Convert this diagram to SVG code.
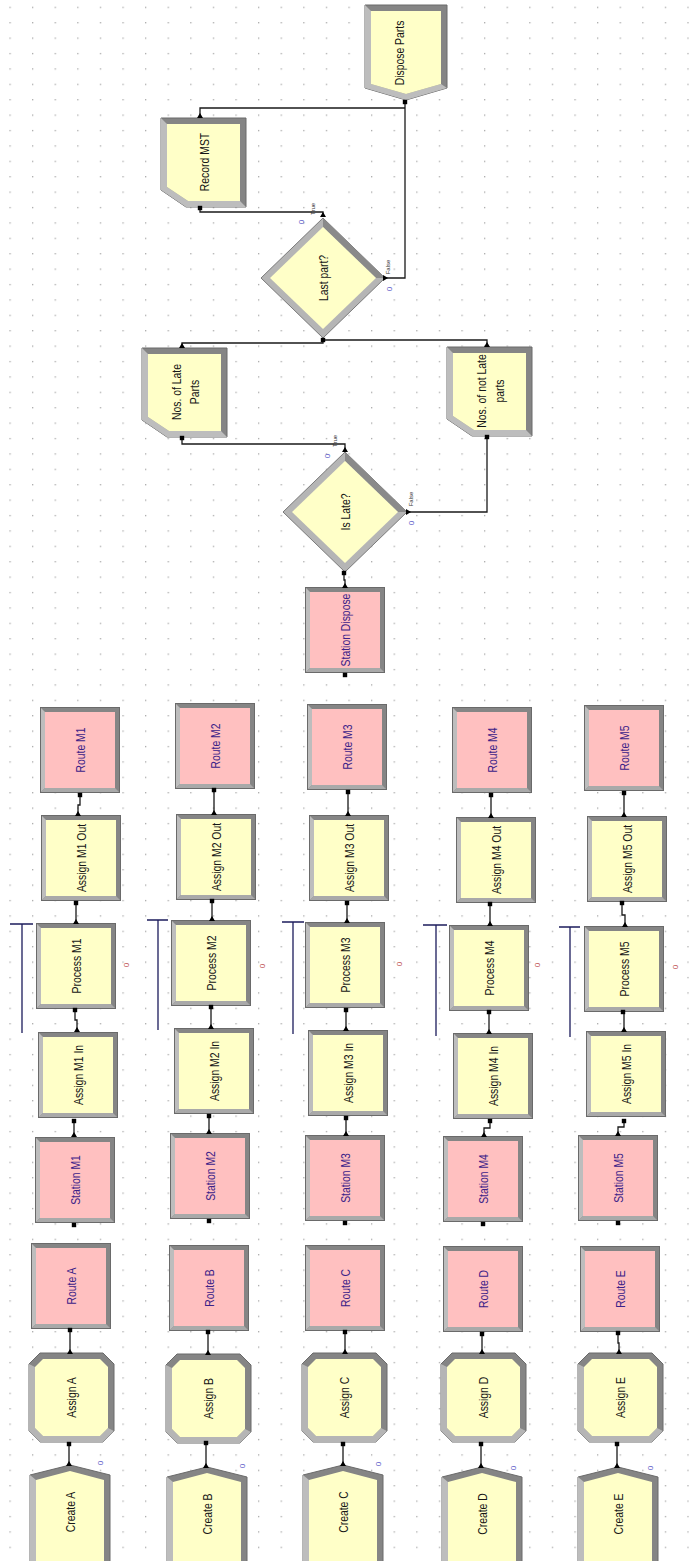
<svg xmlns="http://www.w3.org/2000/svg" width="689" height="1561" viewBox="0 0 689 1561">
<style>
.t{font-family:"Liberation Sans",Arial,sans-serif;font-size:13px;text-anchor:middle}
.ty{fill:#161616}
.tp{fill:#3c2288}
.c{fill:none;stroke:#1a1a1a;stroke-width:1.3}
.res{fill:none;stroke:#1c1c5c;stroke-width:1.3}
.cb{font-family:"Liberation Sans",Arial,sans-serif;font-size:8px;fill:#5b5bc8;text-anchor:middle}
.cr{font-family:"Liberation Sans",Arial,sans-serif;font-size:8px;fill:#c05050;text-anchor:middle}
.lb{font-family:"Liberation Sans",Arial,sans-serif;font-size:6px;fill:#333;text-anchor:middle}
</style>
<defs>
<pattern id="grid" width="22.6" height="15.4" patternUnits="userSpaceOnUse" x="9.4" y="6.7">
<rect width="1.3" height="1.3" fill="#a8a8a8"/>
</pattern>
<g id="boxY">
<rect width="80" height="86" fill="#858585"/>
<polygon points="0,0 5,5 5,81 0,86" fill="#bdbdbd"/>
<polygon points="0,86 5,81 75,81 80,86" fill="#a9a9a9"/>
<rect x="5" y="5" width="70" height="76" fill="#ffffc8"/>
<rect x="0.5" y="0.5" width="79" height="85" fill="none" stroke="#6a6a6a"/>
</g>
<g id="boxP">
<rect width="80" height="86" fill="#858585"/>
<polygon points="0,0 5,5 5,81 0,86" fill="#bdbdbd"/>
<polygon points="0,86 5,81 75,81 80,86" fill="#a9a9a9"/>
<rect x="5" y="5" width="70" height="76" fill="#ffc0c0"/>
<rect x="0.5" y="0.5" width="79" height="85" fill="none" stroke="#6a6a6a"/>
</g>
<g id="asg">
<polygon points="11,0 74,0 85,11 85,78 74,89 11,89 0,78 0,11" fill="#858585" stroke="#6a6a6a"/>
<polygon points="0,11 6,14 6,75 14,83 71,83 79,75 85,78 74,89 11,89 0,78" fill="#b5b5b5"/>
<polygon points="14,6 71,6 79,14 79,75 71,83 14,83 6,75 6,14" fill="#ffffc8"/>
</g>
<g id="crt">
<polygon points="0,10 40,0 80,10 80,100 0,100" fill="#858585" stroke="#6a6a6a"/>
<polygon points="0,10 6,15 6,100 0,100" fill="#bdbdbd"/>
<polygon points="6,15 40,6 74,15 74,100 6,100" fill="#ffffc8"/>
</g>
<g id="rec">
<polygon points="0,0 85,0 85,89 25,89 0,72" fill="#858585" stroke="#6a6a6a"/>
<polygon points="0,0 6,6 6,69 27,83 79,83 85,89 25,89 0,72" fill="#bdbdbd"/>
<polygon points="6,6 79,6 79,83 27,83 6,69" fill="#ffffc8"/>
</g>
<g id="dec">
<polygon points="0,-60 62,0 0,60 -62,0" fill="#b5b5b5" stroke="#7a7a7a"/>
<polygon points="0,-60 62,0 53,0 0,-51" fill="#8a8a8a"/>
<polygon points="0,-51 53,0 0,51 -53,0" fill="#ffffc8"/>
</g>
<g id="dsp">
<polygon points="0,0 82,0 82,83 41,95 0,83" fill="#858585" stroke="#6a6a6a"/>
<polygon points="0,0 6,6 6,79 41,89 76,79 82,83 41,95 0,83" fill="#bdbdbd"/>
<polygon points="6,6 76,6 76,79 41,89 6,79" fill="#ffffc8"/>
</g>
<rect id="sq" x="-2.2" y="-2.2" width="4.4" height="4.4" fill="#000"/>
<polygon id="tri" points="-3,2 3,2 0,-3" fill="#000"/>
</defs>

<rect width="689" height="1561" fill="#ffffff"/>
<rect width="689" height="1561" fill="url(#grid)"/>

<!-- Row A -->
<g id="RouteM1" transform="translate(40,707)"><use href="#boxP"/><text class="t tp" transform="translate(40,43) rotate(-90) scale(0.8,1)" dy="0.35em">Route M1</text></g>
<g id="AssignM1Out" transform="translate(41,815)"><use href="#boxY"/><text class="t ty" transform="translate(40,43) rotate(-90) scale(0.8,1)" dy="0.35em">Assign M1 Out</text></g>
<g id="ProcessM1" transform="translate(36,923)"><use href="#boxY"/><text class="t ty" transform="translate(40,43) rotate(-90) scale(0.8,1)" dy="0.35em">Process M1</text></g>
<g id="AssignM1In" transform="translate(38,1032)"><use href="#boxY"/><text class="t ty" transform="translate(40,43) rotate(-90) scale(0.8,1)" dy="0.35em">Assign M1 In</text></g>
<g id="StationM1" transform="translate(35,1137)"><use href="#boxP"/><text class="t tp" transform="translate(40,43) rotate(-90) scale(0.8,1)" dy="0.35em">Station M1</text></g>
<g id="RouteA" transform="translate(31,1243)"><use href="#boxP"/><text class="t tp" transform="translate(40,43) rotate(-90) scale(0.8,1)" dy="0.35em">Route A</text></g>
<g id="AssignA" transform="translate(29,1353)"><use href="#asg"/><text class="t ty" transform="translate(42.5,44.5) rotate(-90) scale(0.8,1)" dy="0.35em">Assign A</text></g>
<g id="CreateA" transform="translate(30,1465)"><use href="#crt"/><text class="t ty" transform="translate(40,47) rotate(-90) scale(0.8,1)" dy="0.35em">Create A</text></g>

<!-- Row B -->
<g id="RouteM2" transform="translate(175,703)"><use href="#boxP"/><text class="t tp" transform="translate(40,43) rotate(-90) scale(0.8,1)" dy="0.35em">Route M2</text></g>
<g id="AssignM2Out" transform="translate(176,814)"><use href="#boxY"/><text class="t ty" transform="translate(40,43) rotate(-90) scale(0.8,1)" dy="0.35em">Assign M2 Out</text></g>
<g id="ProcessM2" transform="translate(171,920)"><use href="#boxY"/><text class="t ty" transform="translate(40,43) rotate(-90) scale(0.8,1)" dy="0.35em">Process M2</text></g>
<g id="AssignM2In" transform="translate(174,1028)"><use href="#boxY"/><text class="t ty" transform="translate(40,43) rotate(-90) scale(0.8,1)" dy="0.35em">Assign M2 In</text></g>
<g id="StationM2" transform="translate(170,1133)"><use href="#boxP"/><text class="t tp" transform="translate(40,43) rotate(-90) scale(0.8,1)" dy="0.35em">Station M2</text></g>
<g id="RouteB" transform="translate(169,1245)"><use href="#boxP"/><text class="t tp" transform="translate(40,43) rotate(-90) scale(0.8,1)" dy="0.35em">Route B</text></g>
<g id="AssignB" transform="translate(166,1354)"><use href="#asg"/><text class="t ty" transform="translate(42.5,44.5) rotate(-90) scale(0.8,1)" dy="0.35em">Assign B</text></g>
<g id="CreateB" transform="translate(167,1467)"><use href="#crt"/><text class="t ty" transform="translate(40,47) rotate(-90) scale(0.8,1)" dy="0.35em">Create B</text></g>

<!-- Row C -->
<g id="RouteM3" transform="translate(307,704)"><use href="#boxP"/><text class="t tp" transform="translate(40,43) rotate(-90) scale(0.8,1)" dy="0.35em">Route M3</text></g>
<g id="AssignM3Out" transform="translate(309,815)"><use href="#boxY"/><text class="t ty" transform="translate(40,43) rotate(-90) scale(0.8,1)" dy="0.35em">Assign M3 Out</text></g>
<g id="ProcessM3" transform="translate(305,922)"><use href="#boxY"/><text class="t ty" transform="translate(40,43) rotate(-90) scale(0.8,1)" dy="0.35em">Process M3</text></g>
<g id="AssignM3In" transform="translate(308,1030)"><use href="#boxY"/><text class="t ty" transform="translate(40,43) rotate(-90) scale(0.8,1)" dy="0.35em">Assign M3 In</text></g>
<g id="StationM3" transform="translate(305,1135)"><use href="#boxP"/><text class="t tp" transform="translate(40,43) rotate(-90) scale(0.8,1)" dy="0.35em">Station M3</text></g>
<g id="RouteC" transform="translate(305,1245)"><use href="#boxP"/><text class="t tp" transform="translate(40,43) rotate(-90) scale(0.8,1)" dy="0.35em">Route C</text></g>
<g id="AssignC" transform="translate(302,1353)"><use href="#asg"/><text class="t ty" transform="translate(42.5,44.5) rotate(-90) scale(0.8,1)" dy="0.35em">Assign C</text></g>
<g id="CreateC" transform="translate(303,1465)"><use href="#crt"/><text class="t ty" transform="translate(40,47) rotate(-90) scale(0.8,1)" dy="0.35em">Create C</text></g>

<!-- Row D -->
<g id="RouteM4" transform="translate(452,707)"><use href="#boxP"/><text class="t tp" transform="translate(40,43) rotate(-90) scale(0.8,1)" dy="0.35em">Route M4</text></g>
<g id="AssignM4Out" transform="translate(456,817)"><use href="#boxY"/><text class="t ty" transform="translate(40,43) rotate(-90) scale(0.8,1)" dy="0.35em">Assign M4 Out</text></g>
<g id="ProcessM4" transform="translate(449,925)"><use href="#boxY"/><text class="t ty" transform="translate(40,43) rotate(-90) scale(0.8,1)" dy="0.35em">Process M4</text></g>
<g id="AssignM4In" transform="translate(453,1033)"><use href="#boxY"/><text class="t ty" transform="translate(40,43) rotate(-90) scale(0.8,1)" dy="0.35em">Assign M4 In</text></g>
<g id="StationM4" transform="translate(443,1136)"><use href="#boxP"/><text class="t tp" transform="translate(40,43) rotate(-90) scale(0.8,1)" dy="0.35em">Station M4</text></g>
<g id="RouteD" transform="translate(443,1246)"><use href="#boxP"/><text class="t tp" transform="translate(40,43) rotate(-90) scale(0.8,1)" dy="0.35em">Route D</text></g>
<g id="AssignD" transform="translate(441,1353)"><use href="#asg"/><text class="t ty" transform="translate(42.5,44.5) rotate(-90) scale(0.8,1)" dy="0.35em">Assign D</text></g>
<g id="CreateD" transform="translate(442,1467)"><use href="#crt"/><text class="t ty" transform="translate(40,47) rotate(-90) scale(0.8,1)" dy="0.35em">Create D</text></g>

<!-- Row E -->
<g id="RouteM5" transform="translate(584,705)"><use href="#boxP"/><text class="t tp" transform="translate(40,43) rotate(-90) scale(0.8,1)" dy="0.35em">Route M5</text></g>
<g id="AssignM5Out" transform="translate(587,816)"><use href="#boxY"/><text class="t ty" transform="translate(40,43) rotate(-90) scale(0.8,1)" dy="0.35em">Assign M5 Out</text></g>
<g id="ProcessM5" transform="translate(584,926)"><use href="#boxY"/><text class="t ty" transform="translate(40,43) rotate(-90) scale(0.8,1)" dy="0.35em">Process M5</text></g>
<g id="AssignM5In" transform="translate(586,1031)"><use href="#boxY"/><text class="t ty" transform="translate(40,43) rotate(-90) scale(0.8,1)" dy="0.35em">Assign M5 In</text></g>
<g id="StationM5" transform="translate(578,1135)"><use href="#boxP"/><text class="t tp" transform="translate(40,43) rotate(-90) scale(0.8,1)" dy="0.35em">Station M5</text></g>
<g id="RouteE" transform="translate(580,1246)"><use href="#boxP"/><text class="t tp" transform="translate(40,43) rotate(-90) scale(0.8,1)" dy="0.35em">Route E</text></g>
<g id="AssignE" transform="translate(578,1353)"><use href="#asg"/><text class="t ty" transform="translate(42.5,44.5) rotate(-90) scale(0.8,1)" dy="0.35em">Assign E</text></g>
<g id="CreateE" transform="translate(578,1467)"><use href="#crt"/><text class="t ty" transform="translate(40,47) rotate(-90) scale(0.8,1)" dy="0.35em">Create E</text></g>

<!-- Top section -->
<g id="StationDispose" transform="translate(305,587)"><use href="#boxP"/><text class="t tp" transform="translate(40,43) rotate(-90) scale(0.8,1)" dy="0.35em">Station Dispose</text></g>
<g id="IsLate" transform="translate(345,512)"><use href="#dec"/><text class="t ty" transform="rotate(-90) scale(0.8,1)" dy="0.35em">Is Late?</text></g>
<g id="LastPart" transform="translate(323,278)"><use href="#dec"/><text class="t ty" transform="rotate(-90) scale(0.8,1)" dy="0.35em">Last part?</text></g>
<g id="NosLateParts" transform="translate(142,348)"><use href="#rec"/><text class="t ty" transform="translate(43,44) rotate(-90) scale(0.8,1)"><tspan x="0" dy="-0.3em">Nos. of Late</tspan><tspan x="0" dy="1.35em">Parts</tspan></text></g>
<g id="NosNotLateParts" transform="translate(447,347)"><use href="#rec"/><text class="t ty" transform="translate(43,44) rotate(-90) scale(0.8,1)"><tspan x="0" dy="-0.3em">Nos. of not Late</tspan><tspan x="0" dy="1.35em">parts</tspan></text></g>
<g id="RecordMST" transform="translate(161,118)"><use href="#rec"/><text class="t ty" transform="translate(43,44) rotate(-90) scale(0.8,1)" dy="0.35em">Record MST</text></g>
<g id="DisposeParts" transform="translate(365,5)"><use href="#dsp"/><text class="t ty" transform="translate(34,48) rotate(-90) scale(0.8,1)" dy="0.35em">Dispose Parts</text></g>

<!-- Resource lines -->
<g id="resources">
<path class="res" d="M10,924 H33 M22,924 V1033"/>
<path class="res" d="M147,920 H168 M158,920 V1030"/>
<path class="res" d="M282,922 H304 M293,922 V1034"/>
<path class="res" d="M423,925 H447 M436,925 V1036"/>
<path class="res" d="M559,927 H580 M570,927 V1037"/>
</g>

<!-- Counters and labels -->
<g id="counters">
<text class="cb" transform="translate(100,1463) rotate(-90)" dy="0.35em">0</text>
<text class="cb" transform="translate(242,1466) rotate(-90)" dy="0.35em">0</text>
<text class="cb" transform="translate(378,1464) rotate(-90)" dy="0.35em">0</text>
<text class="cb" transform="translate(513,1468) rotate(-90)" dy="0.35em">0</text>
<text class="cb" transform="translate(650,1468) rotate(-90)" dy="0.35em">0</text>
<text class="cr" transform="translate(126,965) rotate(-90)" dy="0.35em">0</text>
<text class="cr" transform="translate(262,966) rotate(-90)" dy="0.35em">0</text>
<text class="cr" transform="translate(399,964) rotate(-90)" dy="0.35em">0</text>
<text class="cr" transform="translate(537,965) rotate(-90)" dy="0.35em">0</text>
<text class="cr" transform="translate(675,967) rotate(-90)" dy="0.35em">0</text>
<text class="cb" transform="translate(327,456) rotate(-90)" dy="0.35em">0</text>
<text class="cb" transform="translate(411,523) rotate(-90)" dy="0.35em">0</text>
<text class="cb" transform="translate(301,222) rotate(-90)" dy="0.35em">0</text>
<text class="cb" transform="translate(389,289) rotate(-90)" dy="0.35em">0</text>
<text class="lb" transform="translate(335,441) rotate(-90)" dy="0.35em">True</text>
<text class="lb" transform="translate(411,499) rotate(-90)" dy="0.35em">False</text>
<text class="lb" transform="translate(313,209) rotate(-90)" dy="0.35em">True</text>
<text class="lb" transform="translate(388,267) rotate(-90)" dy="0.35em">False</text>
</g>

<!-- Connectors -->
<g id="connectors">
<path class="c" d="M69,1465 V1444 M70,1353 V1330 M74,1136 V1121 M77,1031 V1020 H75 V1010 M76,923 V903 M78,815 V805 H80 V795"/>
<path class="c" d="M206,1467 V1443 M208,1354 V1332 M209,1133 V1116 M211,1028 V1007 M212,920 V901 M214,814 V790"/>
<path class="c" d="M343,1465 V1444 M345,1353 V1332 M346,1135 V1118 M346,1030 V1010 M347,922 V903 M348,815 V792"/>
<path class="c" d="M481,1467 V1444 M482,1353 V1334 M484,1136 V1128 H490 V1121 M489,1033 V1012 M490,925 V904 M491,817 V795"/>
<path class="c" d="M617,1467 V1444 M619,1353 V1343 H618 V1333 M618,1135 V1127 H624 V1121 M624,1031 V1012 M625,926 V915 H622 V903 M624,816 V793"/>
<path class="c" d="M345,587 V580 H344 V573"/>
<path class="c" d="M345,452 V444 H182 V438"/>
<path class="c" d="M407,512 H487 V437"/>
<path class="c" d="M182,347 V343 H323 V340"/>
<path class="c" d="M487,346 V340 H323"/>
<path class="c" d="M323,217 V212 H200 V208"/>
<path class="c" d="M384,278 H405 V101"/>
<path class="c" d="M200,117 V108 H405"/>
<!-- entry squares -->
<use href="#sq" x="69" y="1444"/><use href="#sq" x="70" y="1330"/><use href="#sq" x="74" y="1225"/><use href="#sq" x="74" y="1121"/><use href="#sq" x="75" y="1010"/><use href="#sq" x="76" y="903"/><use href="#sq" x="80" y="795"/>
<use href="#sq" x="206" y="1443"/><use href="#sq" x="208" y="1332"/><use href="#sq" x="209" y="1221"/><use href="#sq" x="209" y="1116"/><use href="#sq" x="211" y="1007"/><use href="#sq" x="212" y="901"/><use href="#sq" x="214" y="790"/>
<use href="#sq" x="343" y="1444"/><use href="#sq" x="345" y="1332"/><use href="#sq" x="345" y="1223"/><use href="#sq" x="346" y="1118"/><use href="#sq" x="346" y="1010"/><use href="#sq" x="347" y="903"/><use href="#sq" x="348" y="792"/>
<use href="#sq" x="481" y="1444"/><use href="#sq" x="482" y="1334"/><use href="#sq" x="483" y="1224"/><use href="#sq" x="490" y="1121"/><use href="#sq" x="489" y="1012"/><use href="#sq" x="490" y="904"/><use href="#sq" x="491" y="795"/>
<use href="#sq" x="617" y="1444"/><use href="#sq" x="618" y="1333"/><use href="#sq" x="618" y="1223"/><use href="#sq" x="624" y="1121"/><use href="#sq" x="623" y="1012"/><use href="#sq" x="622" y="903"/><use href="#sq" x="624" y="793"/>
<use href="#sq" x="345" y="675"/><use href="#sq" x="344" y="573"/><use href="#sq" x="182" y="438"/><use href="#sq" x="487" y="437"/><use href="#sq" x="323" y="340"/><use href="#sq" x="200" y="208"/><use href="#sq" x="405" y="102"/>
<!-- exit triangles -->
<use href="#tri" x="69" y="1464"/><use href="#tri" x="70" y="1352"/><use href="#tri" x="74" y="1135"/><use href="#tri" x="77" y="1030"/><use href="#tri" x="76" y="922"/><use href="#tri" x="78" y="814"/>
<use href="#tri" x="206" y="1466"/><use href="#tri" x="208" y="1353"/><use href="#tri" x="209" y="1132"/><use href="#tri" x="211" y="1027"/><use href="#tri" x="212" y="919"/><use href="#tri" x="214" y="813"/>
<use href="#tri" x="343" y="1464"/><use href="#tri" x="345" y="1352"/><use href="#tri" x="346" y="1134"/><use href="#tri" x="346" y="1029"/><use href="#tri" x="347" y="921"/><use href="#tri" x="348" y="814"/>
<use href="#tri" x="481" y="1466"/><use href="#tri" x="482" y="1352"/><use href="#tri" x="484" y="1135"/><use href="#tri" x="489" y="1032"/><use href="#tri" x="490" y="924"/><use href="#tri" x="491" y="816"/>
<use href="#tri" x="617" y="1466"/><use href="#tri" x="619" y="1352"/><use href="#tri" x="618" y="1134"/><use href="#tri" x="624" y="1030"/><use href="#tri" x="625" y="925"/><use href="#tri" x="624" y="815"/>
<use href="#tri" x="345" y="586"/><use href="#tri" x="345" y="450"/><use href="#tri" x="182" y="346"/><use href="#tri" x="487" y="345"/><use href="#tri" x="323" y="215"/><use href="#tri" x="200" y="116"/>
<polygon points="406,509 406,515 411,512" fill="#000"/>
<polygon points="383,275 383,281 388,278" fill="#000"/>
</g>
</svg>
